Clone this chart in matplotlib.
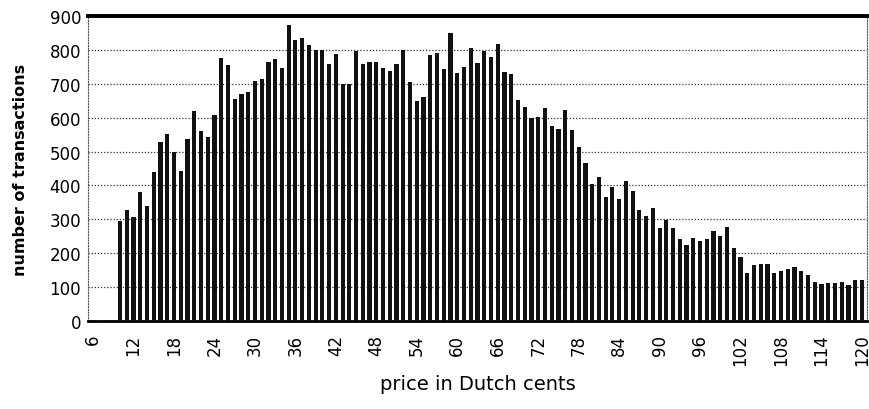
import matplotlib
matplotlib.use("Agg")
import matplotlib.pyplot as plt
import numpy as np

plt.rcParams['font.family'] = ['DejaVu Sans']

prices = list(range(6, 121))
transactions = [
    4, 1, 3, 3,
    296, 328, 307, 381, 338, 439, 527, 552, 498, 443,
    537, 621, 560, 544, 607, 775, 755, 656, 670, 675,
    709, 715, 764, 774, 748, 874, 829, 834, 815, 800,
    800, 758, 788, 699, 700, 798, 758, 764, 765, 747,
    737, 759, 799, 704, 650, 660, 785, 790, 743, 849,
    731, 749, 805, 760, 798, 780, 818, 736, 730, 652,
    632, 598, 601, 628, 576, 566, 622, 565, 512, 467,
    403, 424, 365, 395, 360, 412, 383, 328, 310, 334,
    275, 297, 273, 242, 225, 246, 237, 243, 266, 250,
    278, 216, 188, 143, 165, 168, 168, 143, 148, 153,
    158, 147, 137, 116, 108, 112, 112, 116, 107, 122,
    122,
]
xtick_values = list(range(6, 121, 6))
ytick_values = list(range(0, 901, 100))

fig = plt.figure(figsize=(8.7, 4.1), dpi=100)
ax = fig.add_axes([88 / 870, 1 - 322 / 410, 779 / 870, 305 / 410])

ax.bar(prices, transactions, width=0.62, color='#111111', zorder=3)

ax.set_xlim(5.25, 120.75)
ax.set_ylim(0, 900)
ax.set_yticks(ytick_values)
ax.set_yticklabels([str(v) for v in ytick_values], fontsize=12)
ax.set_xticks(xtick_values)
ax.set_xticklabels([str(v) for v in xtick_values], rotation=90, fontsize=12)
ax.tick_params(axis='y', length=0, pad=5)
ax.tick_params(axis='x', length=0, pad=9)

ax.yaxis.grid(True, linestyle=(0, (1, 1.5)), color='#333333', linewidth=0.9, zorder=0)
ax.xaxis.grid(False)

for side in ['left', 'right']:
    ax.spines[side].set_linestyle((0, (1, 1.5)))
    ax.spines[side].set_color('#555555')
    ax.spines[side].set_linewidth(0.8)
ax.spines['top'].set_linewidth(2.8)
ax.spines['top'].set_color('black')
ax.spines['bottom'].set_linewidth(2.0)
ax.spines['bottom'].set_color('black')

ax.set_ylabel('number of transactions', fontsize=11.5, fontweight='bold')
ax.yaxis.set_label_coords(-60 / 779, 0.5)
ax.set_xlabel('price in Dutch cents', fontsize=14, labelpad=6)

fig.savefig('out.png', dpi=100)
